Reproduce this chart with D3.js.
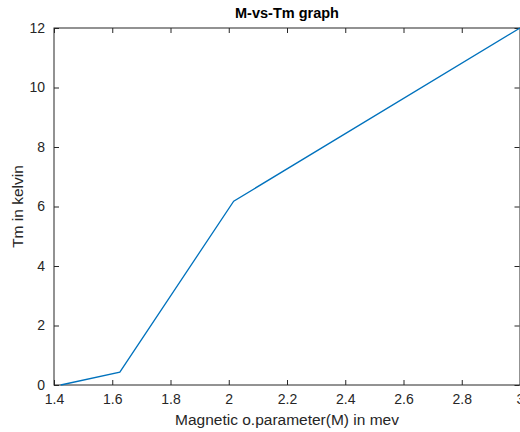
<!DOCTYPE html>
<html>
<head>
<meta charset="utf-8">
<title>M-vs-Tm graph</title>
<script src="https://cdnjs.cloudflare.com/ajax/libs/d3/7.8.5/d3.min.js"></script>
<style>
body { margin: 0; background: white; }
text { font-family: "Liberation Sans", Arial, sans-serif; fill: #262626; }
.axis path, .axis line { stroke: #262626; }
.axis text { font-size: 14px; fill: #262626; }
.line { fill: none; stroke: #0072BD; stroke-width: 1.3; }
</style>
</head>
<body>
<svg id="chart" width="520" height="432"></svg>
<script>
// data
var mValues  = [1.423, 1.626, 2.017, 3.0];
var tmValues = [0, 0.43, 6.18, 12];
var xTicks = [1.4, 1.6, 1.8, 2, 2.2, 2.4, 2.6, 2.8, 3];
var yTicks = [0, 2, 4, 6, 8, 10, 12];

var svg = d3.select("#chart");
var margin = {left: 54, top: 28, right: 520, bottom: 385};

var x = d3.scaleLinear().domain([1.4, 3]).range([margin.left, margin.right]);
var y = d3.scaleLinear().domain([0, 12]).range([margin.bottom, margin.top]);

var points = mValues.map((m, i) => [m, tmValues[i]]);

// box
svg.append("rect")
  .attr("x", margin.left).attr("y", margin.top)
  .attr("width", margin.right - margin.left)
  .attr("height", margin.bottom - margin.top)
  .attr("fill", "white").attr("stroke", "#262626").attr("stroke-width", 1);

svg.append("g")
  .attr("class", "axis")
  .attr("transform", `translate(0, ${margin.bottom})`)
  .call(d3.axisBottom(x).tickValues(xTicks).tickSizeInner(-5).tickSizeOuter(0).tickPadding(9)
        .tickFormat(d3.format("")));

svg.append("g")
  .attr("class", "axis")
  .attr("transform", `translate(0, ${margin.top})`)
  .call(d3.axisTop(x).tickValues(xTicks).tickSizeInner(-5).tickSizeOuter(0).tickFormat(""));

svg.append("g")
  .attr("class", "axis")
  .attr("transform", `translate(${margin.left}, 0)`)
  .call(d3.axisLeft(y).tickValues(yTicks).tickSizeInner(-5).tickSizeOuter(0).tickPadding(9));

svg.append("g")
  .attr("class", "axis")
  .attr("transform", `translate(${margin.right - 0.5}, 0)`)
  .call(d3.axisRight(y).tickValues(yTicks).tickSizeInner(-5).tickSizeOuter(0).tickFormat(""));

svg.selectAll(".axis .domain").remove();

svg.append("path")
  .datum(points)
  .attr("class", "line")
  .attr("d", d3.line().x(d => x(d[0])).y(d => y(d[1])));

svg.append("text")
  .attr("x", (margin.left + margin.right) / 2)
  .attr("y", 18)
  .attr("text-anchor", "middle")
  .style("font-size", "14.5px")
  .style("font-weight", "bold")
  .style("fill", "black")
  .text("M-vs-Tm graph");

svg.append("text")
  .attr("x", (margin.left + margin.right) / 2)
  .attr("y", 425)
  .attr("text-anchor", "middle")
  .style("font-size", "15.5px")
  .text("Magnetic o.parameter(M) in mev");

svg.append("text")
  .attr("transform", `translate(23, ${(margin.top + margin.bottom) / 2}) rotate(-90)`)
  .attr("text-anchor", "middle")
  .style("font-size", "15.5px")
  .text("Tm in kelvin");
</script>
</body>
</html>
